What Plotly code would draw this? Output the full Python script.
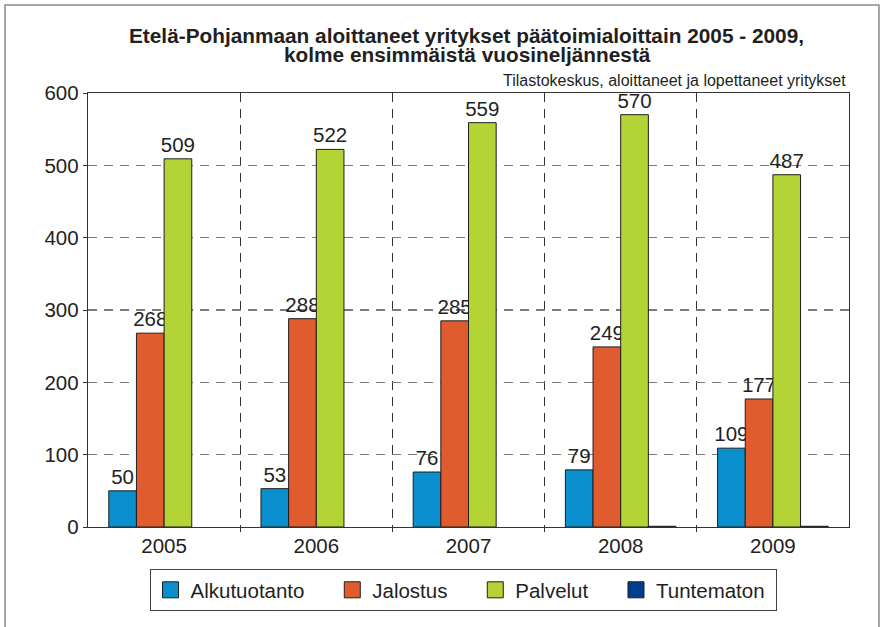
import plotly.graph_objects as go

years = ["2005", "2006", "2007", "2008", "2009"]
alkutuotanto = [50, 53, 76, 79, 109]
jalostus = [268, 288, 285, 249, 177]
palvelut = [509, 522, 559, 570, 487]
tuntematon = [0, 0, 0, 1, 1]

series_names = ["Alkutuotanto", "Jalostus", "Palvelut", "Tuntematon"]
series_colors = ["#0a8fce", "#e05c2e", "#b4d334", "#003e8c"]
title_line1 = "Etelä-Pohjanmaan aloittaneet yritykset päätoimialoittain 2005 - 2009,"
title_line2 = "kolme ensimmäistä vuosineljännestä"
source_text = "Tilastokeskus, aloittaneet ja lopettaneet yritykset"

FONT = "Liberation Sans, Arial, Helvetica, sans-serif"
TXT = "#231f20"

W, H = 886, 627
L, R, T, B = 88, 37, 93, 100
PW, PH = W - L - R, H - T - B


def px(xp):
    return (xp - L) / PW


def py(yp):
    return (H - B - yp) / PH


xs = list(range(len(years)))
values = [alkutuotanto, jalostus, palvelut, tuntematon]

fig = go.Figure()
for i, (name, vals, col) in enumerate(zip(series_names, values, series_colors)):
    show_text = name != "Tuntematon"
    fig.add_trace(go.Bar(
        x=xs, y=vals, name=name,
        marker=dict(color=col,
                    line=dict(color="#1e1e1e",
                              width=[1 if v > 0 else 0 for v in vals])),
        text=[str(v) for v in vals] if show_text else None,
        textposition="outside" if show_text else "none",
        textfont=dict(family=FONT, size=20.5, color=TXT),
        constraintext="none",
        cliponaxis=False,
        showlegend=False,
    ))

# legend entries
for i, (name, col) in enumerate(zip(series_names, series_colors)):
    label = name + ("\u00a0\u00a0\u00a0\u00a0" if i < len(series_names) - 1 else "\u00a0")
    fig.add_trace(go.Scatter(
        x=[None], y=[None], mode="markers", name=label,
        marker=dict(symbol="square", size=20, color=col,
                    line=dict(color="#1e1e1e", width=1)),
        showlegend=True,
    ))

fig.update_layout(
    width=W, height=H,
    margin=dict(l=L, r=R, t=T, b=B, pad=0),
    paper_bgcolor="white", plot_bgcolor="white",
    font=dict(family=FONT, size=20.5, color=TXT),
    barmode="group", bargap=0.273, bargroupgap=0,
    showlegend=True,
    legend=dict(
        orientation="h", x=px(463), xanchor="center", y=py(569), yanchor="top",
        bordercolor="#444444", borderwidth=1, bgcolor="white",
        font=dict(family=FONT, size=20.5, color=TXT),
        itemsizing="trace", traceorder="normal",
    ),
    xaxis=dict(
        range=[-0.5, len(years) - 0.5],
        tickvals=xs, ticktext=years, ticks="",
        showgrid=False, zeroline=False,
        showline=True, linecolor="#333333", linewidth=1.2, mirror=True,
        tickfont=dict(family=FONT, size=20.5, color=TXT),
        minor=dict(
            tickvals=[i + 0.5 for i in range(len(years) - 1)],
            showgrid=True, gridcolor="#333333", gridwidth=1.3,
            griddash="9px,7px", ticks="outside", ticklen=4,
            tickcolor="#333333",
        ),
        fixedrange=True,
    ),
    yaxis=dict(
        range=[0, 600], dtick=100, tick0=0,
        showgrid=True, gridcolor="#7a7a7a", gridwidth=1.3, griddash="9px,7px",
        zeroline=False,
        showline=True, linecolor="#333333", linewidth=1.2, mirror=True,
        ticks="outside", ticklen=4, tickcolor="#333333",
        tickfont=dict(family=FONT, size=20.5, color=TXT),
        fixedrange=True,
    ),
    annotations=[
        dict(text="<b>" + title_line1 + "</b>", x=px(466), y=py(35.0),
             xref="paper", yref="paper", xanchor="center", yanchor="middle",
             showarrow=False, font=dict(family=FONT, size=20.8, color=TXT)),
        dict(text="<b>" + title_line2 + "</b>", x=px(467.2), y=py(54.2),
             xref="paper", yref="paper", xanchor="center", yanchor="middle",
             showarrow=False, font=dict(family=FONT, size=20.8, color=TXT)),
        dict(text=source_text, x=px(848), y=py(80.4),
             xref="paper", yref="paper", xanchor="right", yanchor="middle",
             showarrow=False, font=dict(family=FONT, size=16, color=TXT)),
    ],
    shapes=[
        dict(type="rect", xref="paper", yref="paper",
             x0=px(5), x1=px(879), y0=py(660), y1=py(5),
             line=dict(color="#8a8a8a", width=1.5), fillcolor="rgba(0,0,0,0)",
             layer="below"),
    ],
)

fig.write_html(
    "out.html",
    config={"displayModeBar": False, "staticPlot": True},
    post_script="document.body.style.margin='0';document.body.style.overflow='hidden';",
)
